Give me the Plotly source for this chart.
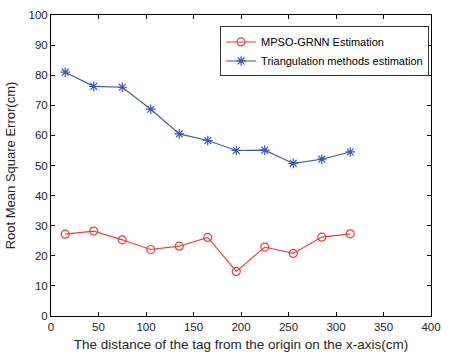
import plotly.graph_objects as go

x_cm = [15, 45, 75, 105, 135, 165, 195, 225, 255, 285, 315]
mpso_grnn = [27.2, 28.2, 25.3, 22.1, 23.2, 26.1, 14.8, 22.9, 20.8, 26.2, 27.3]
triangulation = [81.0, 76.3, 76.0, 68.7, 60.5, 58.3, 55.0, 55.1, 50.7, 52.1, 54.5]

FONT = "Liberation Sans, Arial, sans-serif"
RED = "#e8403a"
BLUE = "#3a58bb"

fig = go.Figure()
fig.add_trace(go.Scatter(
    x=x_cm, y=mpso_grnn, mode="lines+markers", name="MPSO-GRNN Estimation",
    line=dict(color=RED, width=1.1),
    marker=dict(symbol="circle-open", size=8, color=RED, line=dict(width=1.2)),
))
fig.add_trace(go.Scatter(
    x=x_cm, y=triangulation, mode="lines+markers", name="Triangulation methods estimation",
    line=dict(color=BLUE, width=1.1),
    marker=dict(symbol="asterisk-open", size=8, color=BLUE, line=dict(width=1.2, color=BLUE)),
))

axis_common = dict(
    showline=True, linecolor="black", linewidth=1, mirror="ticks",
    ticks="inside", ticklen=4, tickcolor="black", showgrid=False, zeroline=False,
    tickfont=dict(family=FONT, size=11.5, color="#262626"),
)
fig.update_xaxes(range=[0, 400], dtick=50, title=dict(
    text="The distance of the tag from the origin on the x-axis(cm)",
    font=dict(family=FONT, size=13.5, color="#262626"), standoff=7),
    **axis_common)
fig.update_yaxes(range=[0, 100], dtick=10, title=dict(
    text="Root Mean Square Error(cm)",
    font=dict(family=FONT, size=13, color="#262626"), standoff=9),
    **axis_common)

fig.update_layout(
    width=450, height=358,
    margin=dict(l=51, r=9, t=10, b=42),
    paper_bgcolor="white", plot_bgcolor="white",
    legend=dict(
        x=0.995, y=0.962, xanchor="right", yanchor="top",
        bgcolor="white", bordercolor="#333333", borderwidth=1,
        font=dict(family=FONT, size=11, color="black"),
        tracegroupgap=0, itemwidth=30,
    ),
)
fig.write_html("out.html")
